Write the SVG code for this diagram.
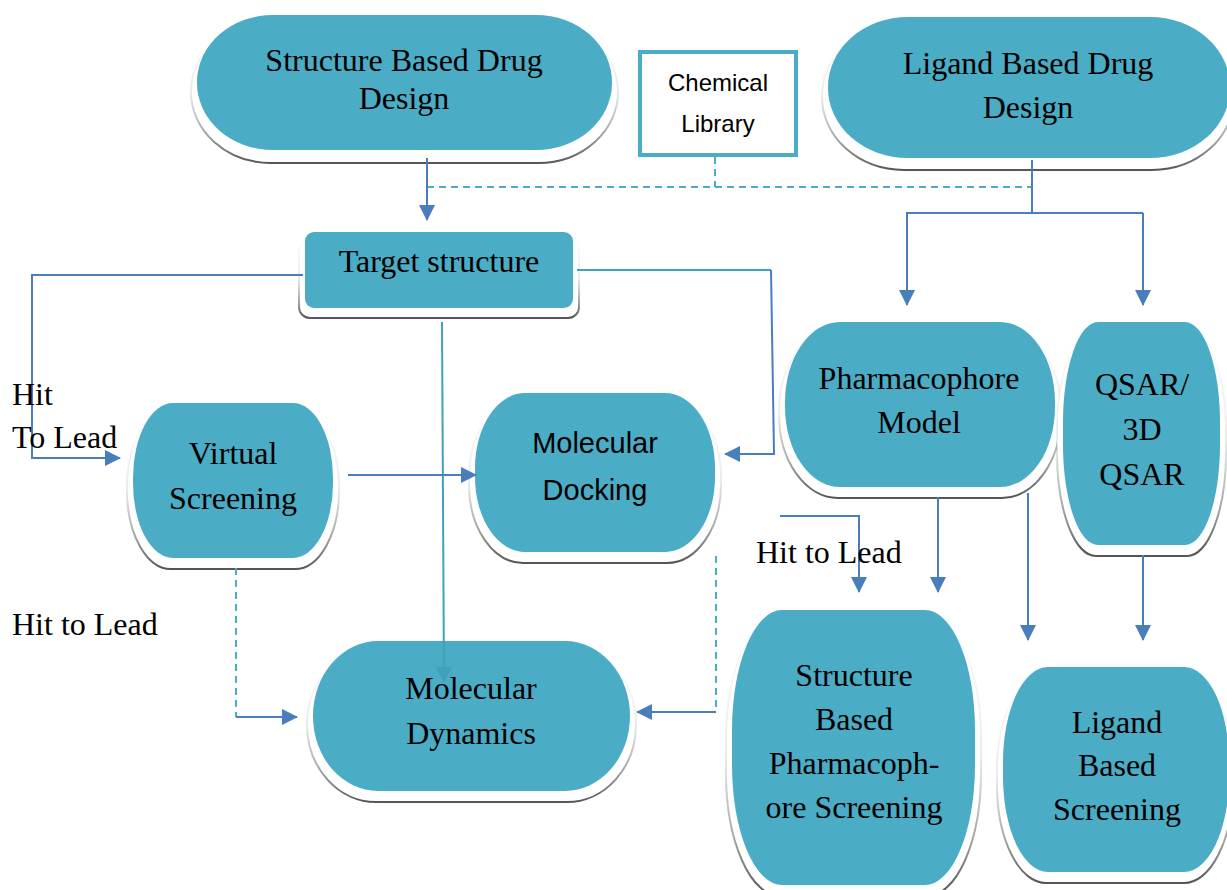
<svg xmlns="http://www.w3.org/2000/svg" width="1227" height="890" viewBox="0 0 1227 890">
<defs>
<linearGradient id="sg" x1="0" y1="0" x2="0" y2="1">
<stop offset="0" stop-color="#777" stop-opacity="0"/>
<stop offset="0.5" stop-color="#777" stop-opacity="0.15"/>
<stop offset="0.8" stop-color="#666" stop-opacity="0.6"/>
<stop offset="1" stop-color="#555" stop-opacity="1"/>
</linearGradient>
<marker id="ah" markerUnits="userSpaceOnUse" markerWidth="16" markerHeight="16" viewBox="0 0 16 16" refX="15" refY="8" orient="auto">
<path d="M0 0 L16 8 L0 16 Z" fill="#4A7EBB"/>
</marker>
<marker id="ahl" markerUnits="userSpaceOnUse" markerWidth="16" markerHeight="16" viewBox="0 0 16 16" refX="15" refY="8" orient="auto">
<path d="M0 0 L16 8 L0 16 Z" fill="#3FA2BC"/>
</marker>
</defs>
<style>
.node{fill:#4BACC6;}
.sh{fill:#fff;stroke:url(#sg);stroke-width:2;}
.t{font-family:"Liberation Serif","Times New Roman",serif;font-size:32px;fill:#000;text-anchor:middle;}
.s{font-family:"Liberation Sans",Arial,sans-serif;fill:#000;text-anchor:middle;}
.lbl{font-family:"Liberation Serif","Times New Roman",serif;font-size:32px;fill:#000;}
.c{fill:none;stroke:#4A7EBB;stroke-width:2;}
.cl{fill:none;stroke:#3FA2BC;stroke-width:2;}
.d{fill:none;stroke:#4BACC6;stroke-width:2;stroke-dasharray:7 5;}
</style>
<rect width="1227" height="890" fill="#fff"/>

<g id="sbdd">
<rect class="sh" x="191" y="21" width="427" height="142" rx="80" ry="71"/>
<rect class="node" x="197" y="15" width="415" height="135" rx="76" ry="67"/>
<text class="t" x="404" y="71">Structure Based Drug</text>
<text class="t" x="404" y="109">Design</text>
</g>

<g id="chemlib">
<rect x="640" y="52" width="156" height="103" fill="#fff" stroke="#4BACC6" stroke-width="4"/>
<text class="s" x="718" y="91" font-size="24">Chemical</text>
<text class="s" x="718" y="132" font-size="24">Library</text>
</g>

<g id="lbdd">
<rect class="sh" x="822" y="23" width="412" height="147" rx="82" ry="73"/>
<rect class="node" x="828" y="17" width="402" height="141" rx="80" ry="70"/>
<text class="t" x="1028" y="74">Ligand Based Drug</text>
<text class="t" x="1028" y="118">Design</text>
</g>

<g id="target">
<rect class="sh" x="299" y="238" width="280" height="80" rx="11"/>
<rect class="node" x="305" y="232" width="268" height="76" rx="9"/>
<text class="t" x="439" y="272">Target structure</text>
</g>

<g id="vs">
<rect class="sh" x="127" y="409" width="212" height="160" rx="44" ry="78"/>
<rect class="node" x="133" y="403" width="200" height="155" rx="40" ry="75"/>
<text class="t" x="233" y="464">Virtual</text>
<text class="t" x="233" y="509">Screening</text>
</g>

<g id="docking">
<rect class="sh" x="469" y="399" width="252" height="164" rx="54" ry="78"/>
<rect class="node" x="475" y="393" width="240" height="159" rx="50" ry="75"/>
<text class="s" x="595" y="453" font-size="29">Molecular</text>
<text class="s" x="595" y="500" font-size="29">Docking</text>
</g>

<g id="dynamics">
<rect class="sh" x="307" y="647" width="329" height="155" rx="69" ry="78"/>
<rect class="node" x="313" y="641" width="317" height="150" rx="65" ry="75"/>
<text class="t" x="471" y="699">Molecular</text>
<text class="t" x="471" y="744">Dynamics</text>
</g>

<g id="pharm">
<rect class="sh" x="779" y="328" width="282" height="170" rx="59" ry="83"/>
<rect class="node" x="785" y="322" width="270" height="165" rx="55" ry="80"/>
<text class="t" x="919" y="389">Pharmacophore</text>
<text class="t" x="919" y="433">Model</text>
</g>

<g id="qsar">
<rect class="sh" x="1057" y="328" width="169" height="228" rx="39" ry="103"/>
<rect class="node" x="1063" y="322" width="157" height="223" rx="35" ry="100"/>
<text class="t" x="1142" y="395">QSAR/</text>
<text class="t" x="1142" y="440">3D</text>
<text class="t" x="1142" y="485">QSAR</text>
</g>

<g id="sbps">
<rect class="sh" x="726" y="616" width="255" height="280" rx="54" ry="123"/>
<rect class="node" x="732" y="610" width="243" height="275" rx="50" ry="120"/>
<text class="t" x="854" y="686">Structure</text>
<text class="t" x="854" y="730">Based</text>
<text class="t" x="854" y="774">Pharmacoph-</text>
<text class="t" x="854" y="818">ore Screening</text>
</g>

<g id="lbs">
<rect class="sh" x="997" y="673" width="236" height="210" rx="49" ry="98"/>
<rect class="node" x="1003" y="667" width="226" height="205" rx="45" ry="95"/>
<text class="t" x="1117" y="733">Ligand</text>
<text class="t" x="1117" y="776">Based</text>
<text class="t" x="1117" y="820">Screening</text>
</g>

<g id="connectors">
<path class="d" d="M715 157 V187 M427 187 H1032"/>
<path class="c" d="M427 158 V220" marker-end="url(#ah)"/>
<path class="c" d="M1032 160 V213 M906 213 H1143"/>
<path class="c" d="M907 213 V305" marker-end="url(#ah)"/>
<path class="c" d="M1143 213 V305" marker-end="url(#ah)"/>
<path class="c" d="M303 275 H32 V458 H120" marker-end="url(#ah)"/>
<path class="cl" d="M577 270 H771"/>
<path class="c" d="M771 270 L774 454 H725" marker-end="url(#ah)"/>
<path class="cl" d="M442 322 L444 682" marker-end="url(#ahl)"/>
<path class="c" d="M348 475 H476" marker-end="url(#ah)"/>
<path class="d" d="M716 556 V712"/>
<path class="c" d="M716 712 H637" marker-end="url(#ah)"/>
<path class="d" d="M236 568 V717"/>
<path class="c" d="M236 717 H297" marker-end="url(#ah)"/>
<path class="c" d="M938 497 V592" marker-end="url(#ah)"/>
<path class="c" d="M1028 493 V640" marker-end="url(#ah)"/>
<path class="c" d="M1143 555 V640" marker-end="url(#ah)"/>
<path class="c" d="M780 516 H859 V592" marker-end="url(#ah)"/>
</g>

<g id="labels">
<text class="lbl" x="12" y="405">Hit</text>
<text class="lbl" x="12" y="448">To Lead</text>
<text class="lbl" x="12" y="635">Hit to Lead</text>
<text class="lbl" x="756" y="563">Hit to Lead</text>
</g>
</svg>
